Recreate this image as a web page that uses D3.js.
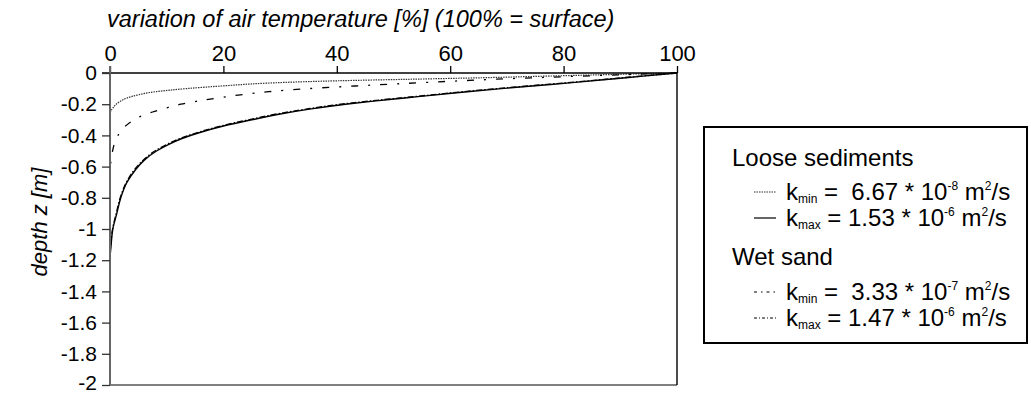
<!DOCTYPE html>
<html>
<head>
<meta charset="utf-8">
<script src="https://cdn.jsdelivr.net/npm/d3@7"></script>
<style>
  body { margin: 0; background: #fff; }
  svg text { font-family: "Liberation Sans", Arial, sans-serif; fill: #000; white-space: pre; }
</style>
</head>
<body>
<svg id="chart" width="1031" height="394"></svg>
<script>
// Axis ticks
const xTicks = [0, 20, 40, 60, 80, 100];
const yTicks = [0, -0.2, -0.4, -0.6, -0.8, -1, -1.2, -1.4, -1.6, -1.8, -2];
const yTickLabels = ["0", "-0.2", "-0.4", "-0.6", "-0.8", "-1", "-1.2", "-1.4", "-1.6", "-1.8", "-2"];

// Loose sediments, k_min: depth [m] and remaining amplitude [%]
const looseMinDepth = [0, -0.01, -0.02, -0.03, -0.04, -0.05, -0.06, -0.07, -0.08, -0.09, -0.10, -0.11, -0.12, -0.14, -0.16, -0.18, -0.20, -0.22, -0.24, -0.26];
const looseMinPct   = [100, 88, 77, 66, 53, 40, 31, 25, 21, 17, 13.5, 10.5, 8, 5, 3, 1.9, 1.1, 0.6, 0.2, 0];

// Loose sediments, k_max
const looseMaxDepth = [0, -0.02, -0.04, -0.06, -0.08, -0.10, -0.12, -0.14, -0.16, -0.18, -0.20, -0.23, -0.26, -0.30, -0.34, -0.38, -0.42, -0.46, -0.50, -0.56, -0.62, -0.70, -0.80, -0.90, -1.00, -1.10, -1.20, -1.40];
const looseMaxPct   = [100, 94, 88, 82, 75.5, 69, 63, 57.5, 52, 46.5, 41.5, 35.5, 30.5, 25, 20, 16, 12.7, 10.2, 8.2, 6, 4.5, 3, 1.9, 1.2, 0.5, 0.2, 0, 0];

// Wet sand, k_min
const wetMinDepth = [0, -0.02, -0.04, -0.06, -0.08, -0.10, -0.12, -0.14, -0.16, -0.18, -0.20, -0.22, -0.25, -0.28, -0.32, -0.36, -0.40, -0.45, -0.50, -0.55, -0.62];
const wetMinPct   = [100, 83, 68, 56, 45, 35, 28, 23, 19, 15.5, 12.5, 10.3, 7.5, 5.3, 3.4, 2.2, 1.4, 0.8, 0.45, 0.22, 0];

// Wet sand, k_max
const wetMaxDepth = [0, -0.02, -0.04, -0.06, -0.08, -0.10, -0.12, -0.14, -0.16, -0.18, -0.20, -0.23, -0.26, -0.30, -0.34, -0.38, -0.42, -0.46, -0.50, -0.56, -0.62, -0.70, -0.80, -0.90, -1.00, -1.10, -1.20];
const wetMaxPct   = [100, 93.6, 87.5, 81.3, 74.8, 68.3, 62.2, 56.7, 51.2, 45.7, 40.7, 34.8, 29.8, 24.4, 19.5, 15.6, 12.3, 9.9, 7.9, 5.8, 4.3, 2.9, 1.8, 1.1, 0.45, 0.15, 0];

const series = [
  { depth: looseMinDepth, pct: looseMinPct, dash: "1.5,1", color: "#333", width: 1.2 },
  { depth: wetMinDepth,   pct: wetMinPct,   dash: "7,10,2,10", color: "#000", width: 1.3 },
  { depth: wetMaxDepth,   pct: wetMaxPct,   dash: "6,2,1.5,2", color: "#000", width: 1.3 },
  { depth: looseMaxDepth, pct: looseMaxPct, dash: null, color: "#000", width: 1.4 }
];

const svg = d3.select("#chart");
const plot = { left: 110, right: 677, top: 73, bottom: 385 };

const x = d3.scaleLinear().domain([0, 100]).range([plot.left, plot.right]);
const y = d3.scaleLinear().domain([0, -2]).range([plot.top, plot.bottom]);

// Frame: bottom and right edges
svg.append("line").attr("x1", plot.left).attr("x2", plot.right).attr("y1", plot.bottom).attr("y2", plot.bottom)
  .attr("stroke", "#000").attr("stroke-width", 1.2);
svg.append("line").attr("x1", plot.right).attr("x2", plot.right).attr("y1", plot.top).attr("y2", plot.bottom)
  .attr("stroke", "#000").attr("stroke-width", 1.4);

// Curves
const line = d3.line()
  .x((d) => x(d.p))
  .y((d) => y(d.z))
  .curve(d3.curveMonotoneY);

series.forEach((s) => {
  const pts = s.depth.map((z, i) => ({ z, p: s.pct[i] }));
  svg.append("path")
    .datum(pts)
    .attr("d", line)
    .attr("fill", "none")
    .attr("stroke", s.color)
    .attr("stroke-width", s.width)
    .attr("stroke-dasharray", s.dash);
});

// Top axis
const xAxis = d3.axisTop(x).tickValues(xTicks).tickSize(7).tickPadding(5).tickFormat(d3.format("d"));
const gx = svg.append("g").attr("transform", `translate(0,${plot.top})`).call(xAxis);
gx.select(".domain").attr("d", `M${plot.left - 8},0H${plot.right}`).attr("stroke", "#000").attr("stroke-width", 1.5);
gx.selectAll(".tick line").attr("stroke", "#000").attr("stroke-width", 1.3);
gx.selectAll(".tick text").attr("font-size", 22).attr("font-family", "Liberation Sans, Arial, sans-serif");

// Left axis
const yAxis = d3.axisLeft(y).tickValues(yTicks).tickSize(8).tickPadding(5)
  .tickFormat((d, i) => yTickLabels[i]);
const gy = svg.append("g").attr("transform", `translate(${plot.left},0)`).call(yAxis);
gy.select(".domain").attr("d", `M0,${plot.top - 7}V${plot.bottom}`).attr("stroke", "#666").attr("stroke-width", 2);
gy.selectAll(".tick line").attr("stroke", "#333").attr("stroke-width", 1.3);
gy.selectAll(".tick text").attr("font-size", 21).attr("font-family", "Liberation Sans, Arial, sans-serif");
// keep the lowest label inside the canvas
gy.selectAll(".tick text").filter((d) => d === -2).attr("y", -2);

// Axis titles
svg.append("text")
  .attr("x", 107).attr("y", 27)
  .attr("font-size", 23.5).attr("font-style", "italic")
  .text("variation of air temperature [%] (100% = surface)");

svg.append("text")
  .attr("transform", "translate(47,222) rotate(-90)")
  .attr("text-anchor", "middle")
  .attr("font-size", 22).attr("font-style", "italic")
  .text("depth z [m]");

// Legend
const legend = svg.append("g");
legend.append("rect")
  .attr("x", 704).attr("y", 127).attr("width", 323).attr("height", 216)
  .attr("fill", "#fff").attr("stroke", "#000").attr("stroke-width", 2);

const legendGroups = [
  { title: "Loose sediments", y: 166 },
  { title: "Wet sand", y: 265 }
];
const legendRows = [
  { y: 200, dash: "1.5,1", color: "#333", sub: "min", coef: " =  6.67 * 10", exp: "-8" },
  { y: 226, dash: null, color: "#000", sub: "max", coef: " = 1.53 * 10", exp: "-6" },
  { y: 300, dash: "3,4,1.5,4", color: "#000", sub: "min", coef: " =  3.33 * 10", exp: "-7" },
  { y: 326, dash: "3,2,1,2", color: "#000", sub: "max", coef: " = 1.47 * 10", exp: "-6" }
];

legendGroups.forEach((g) => {
  legend.append("text").attr("x", 732).attr("y", g.y).attr("font-size", 24).text(g.title);
});

legendRows.forEach((r) => {
  legend.append("line")
    .attr("x1", 754).attr("x2", 776).attr("y1", r.y - 8).attr("y2", r.y - 8)
    .attr("stroke", r.color).attr("stroke-width", 1.2)
    .attr("stroke-dasharray", r.dash);
  const t = legend.append("text").attr("x", 786).attr("y", r.y).attr("font-size", 24);
  t.append("tspan").text("k");
  t.append("tspan").attr("font-size", 12).attr("dy", 3).text(r.sub);
  t.append("tspan").attr("dy", -3).text(r.coef);
  t.append("tspan").attr("font-size", 12).attr("dy", -10).text(r.exp);
  t.append("tspan").attr("dy", 10).text(" m");
  t.append("tspan").attr("font-size", 12).attr("dy", -10).text("2");
  t.append("tspan").attr("dy", 10).text("/s");
});
</script>
</body>
</html>
